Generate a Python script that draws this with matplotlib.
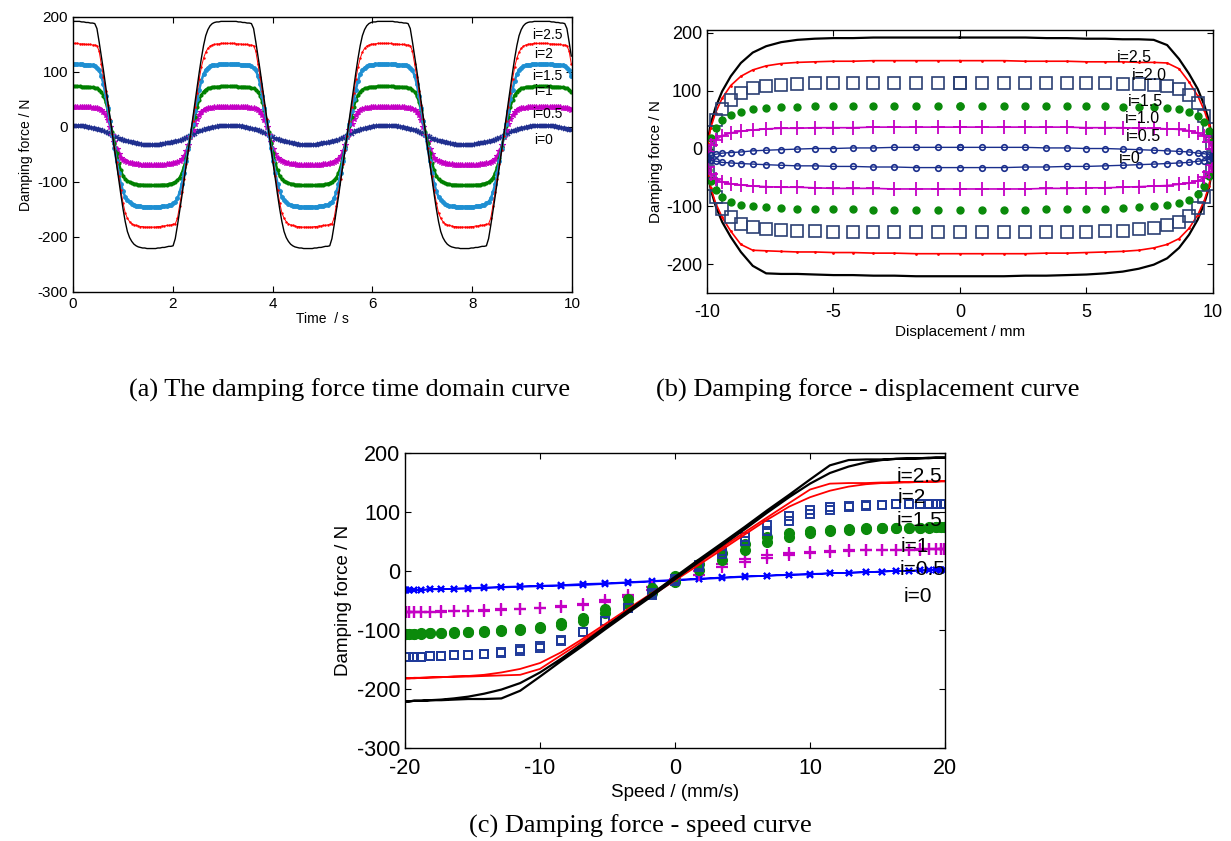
import numpy as np
import matplotlib
matplotlib.use('Agg')
import matplotlib.pyplot as plt

plt.rcParams['font.family'] = ['Liberation Sans', 'DejaVu Sans']
plt.rcParams['axes.unicode_minus'] = False

disp_cycle = [0, 0.87, 1.74, 2.59, 3.42, 4.23, 5.0, 5.74, 6.43, 7.07, 7.66, 8.19, 8.66, 9.06, 9.40, 9.66,
              9.85, 9.96, 10.0, 9.96, 9.85, 9.66, 9.40, 9.06, 8.66, 8.19, 7.66, 7.07, 6.43, 5.74, 5.0, 4.23,
              3.42, 2.59, 1.74, 0.87, 0,
              -0.87, -1.74, -2.59, -3.42, -4.23, -5.0, -5.74, -6.43, -7.07, -7.66, -8.19, -8.66, -9.06,
              -9.40, -9.66, -9.85, -9.96, -10.0, -9.96, -9.85, -9.66, -9.40, -9.06, -8.66, -8.19, -7.66,
              -7.07, -6.43, -5.74, -5.0, -4.23, -3.42, -2.59, -1.74, -0.87]
speed_cycle = [20, 19.92, 19.70, 19.32, 18.79, 18.13, 17.32, 16.38, 15.32, 14.14, 12.86, 11.47, 10.0, 8.45,
               6.84, 5.18, 3.47, 1.74, 0, -1.74, -3.47, -5.18, -6.84, -8.45, -10.0, -11.47, -12.86, -14.14,
               -15.32, -16.38, -17.32, -18.13, -18.79, -19.32, -19.70, -19.92, -20,
               -19.92, -19.70, -19.32, -18.79, -18.13, -17.32, -16.38, -15.32, -14.14, -12.86, -11.47,
               -10.0, -8.45, -6.84, -5.18, -3.47, -1.74, 0, 1.74, 3.47, 5.18, 6.84, 8.45, 10.0, 11.47,
               12.86, 14.14, 15.32, 16.38, 17.32, 18.13, 18.79, 19.32, 19.70, 19.92]

# damping force (N) over the same cycle, one list per current
force_i25 = [192, 192, 192, 192, 191, 191, 190, 190, 189, 189, 188, 179, 155, 129, 103, 75, 47, 19, -10,
             -39, -67, -95, -123, -149, -172, -190, -201, -208, -213, -216, -218, -219, -220, -220, -221,
             -221, -221,
             -221, -221, -220, -220, -219, -219, -218, -217, -217, -216, -203, -179, -153, -127, -99, -71,
             -43, -14, 15, 43, 71, 99, 125, 148, 166, 177, 184, 188, 190, 191, 191, 192, 192, 192, 192]
force_i2 = [152, 152, 152, 151, 151, 151, 150, 150, 150, 149, 149, 148, 138, 115, 91, 66, 40, 14, -12,
            -38, -64, -90, -115, -138, -156, -166, -172, -176, -178, -179, -180, -181, -181, -182, -182,
            -182, -182,
            -182, -182, -181, -181, -180, -180, -179, -179, -178, -177, -176, -166, -143, -119, -94, -68,
            -42, -16, 10, 36, 62, 87, 109, 125, 136, 143, 147, 149, 150, 151, 151, 152, 152, 152, 152]
force_i15 = [114, 114, 114, 114, 114, 113, 113, 113, 112, 112, 110, 108, 103, 93, 78, 57, 34, 10, -14,
             -38, -62, -84, -103, -117, -127, -133, -137, -140, -142, -143, -144, -144, -145, -145, -145,
             -145, -145,
             -145, -145, -145, -145, -144, -144, -143, -142, -141, -139, -136, -130, -119, -104, -84, -62,
             -40, -17, 6, 29, 50, 68, 84, 96, 104, 108, 110, 112, 113, 113, 114, 114, 114, 114, 114]
force_i1 = [74, 74, 74, 74, 73, 73, 73, 73, 72, 72, 71, 70, 68, 64, 57, 46, 30, 11, -9,
            -29, -48, -65, -79, -89, -95, -98, -100, -102, -103, -104, -105, -105, -105, -106, -106,
            -106, -106,
            -106, -106, -106, -106, -105, -105, -105, -104, -103, -102, -100, -97, -92, -84, -72, -56,
            -37, -18, 1, 19, 36, 49, 58, 64, 68, 70, 71, 72, 73, 73, 73, 74, 74, 74, 74]
force_i05 = [37, 37, 37, 37, 37, 37, 36, 36, 36, 35, 35, 34, 33, 31, 27, 21, 12, 0, -14,
             -28, -40, -50, -56, -60, -62, -64, -65, -66, -67, -68, -68, -69, -69, -70, -70, -70, -70,
             -70, -70, -70, -69, -69, -69, -68, -67, -67, -66, -65, -63, -61, -58, -53, -44,
             -32, -19, -6, 6, 15, 22, 27, 30, 32, 34, 35, 35, 36, 36, 36, 37, 37, 37, 37]
force_i0 = [2, 2, 2, 2, 1, 1, 0, 0, -1, -2, -3, -4, -5, -6, -8, -9, -11, -13, -15,
            -17, -19, -21, -22, -24, -25, -26, -27, -28, -29, -30, -31, -31, -32, -32, -33, -33, -33,
            -33, -33, -32, -32, -31, -31, -30, -30, -29, -28, -27, -26, -25, -24, -22, -20,
            -18, -16, -14, -12, -10, -8, -7, -6, -4, -3, -2, -1, 0, 0, 1, 1, 2, 2, 2]

sample_step = 0.0436  # s
n_samples = 230
time_s = np.arange(n_samples) * sample_step

labels_a = ['i=2.5', 'i=2', 'i=1.5', 'i=1', 'i=0.5', 'i=0']
labels_b = ['i=2.5', 'i=2.0', 'i=1.5', 'i=1.0', 'i=0.5', 'i=0']
labels_c = ['i=2.5', 'i=2', 'i=1.5', 'i=1', 'i=0.5', 'i=0']


def closed(vals):
    return list(vals) + [vals[0]]


def style_axes(ax, fs, pad=3.5):
    ax.tick_params(direction='in', top=True, right=True, labelsize=fs, length=4, width=0.8, pad=pad)
    for s in ax.spines.values():
        s.set_linewidth(1.0)


fig = plt.figure(figsize=(12.31, 8.41), dpi=100)

# (a) time domain
ax = fig.add_axes([0.0593, 0.6528, 0.4054, 0.327])
ax.plot(time_s, np.resize(force_i0, n_samples), color='#1f2f8f', marker='x', ms=3, mew=1.2, lw=1.8)
ax.plot(time_s, np.resize(force_i05, n_samples), color='#c400c4', marker='*', ms=4, mew=0.8, lw=1.2)
ax.plot(time_s, np.resize(force_i1, n_samples), color='#008000', marker='.', ms=4, lw=1.8)
ax.plot(time_s, np.resize(force_i15, n_samples), color='#1e8fd2', marker='o', ms=2.5, lw=1.8)
ax.plot(time_s, np.resize(force_i2, n_samples), color='#ff0000', marker='.', ms=1.5, lw=0.7)
ax.plot(time_s, np.resize(force_i25, n_samples), color='black', lw=1.0)
ax.set_xlim(0, 10)
ax.set_ylim(-300, 200)
ax.set_xticks([0, 2, 4, 6, 8, 10])
ax.set_yticks([-300, -200, -100, 0, 100, 200])
style_axes(ax, 11)
ax.set_xlabel('Time  / s', fontsize=10, labelpad=1)
ax.set_ylabel('Damping force / N', fontsize=10, labelpad=3)
for lab, (tx, ty) in zip(labels_a, [(9.5, 168), (9.43, 133), (9.5, 92), (9.43, 66), (9.5, 23), (9.43, -24)]):
    ax.text(tx, ty, lab, fontsize=10, ha='center', va='center')

# (b) force - displacement
ax = fig.add_axes([0.5743, 0.6516, 0.411, 0.3127])
xb = closed(disp_cycle)
ax.plot(xb, closed(force_i25), color='black', lw=1.6)
ax.plot(xb, closed(force_i2), color='#ff0000', lw=1.2, marker='.', ms=2)
ax.plot(xb, closed(force_i15), ls='none', marker='s', ms=9, mfc='none', mec='#2b3f73', mew=1.2)
ax.plot(xb, closed(force_i1), ls='none', marker='o', ms=5, color='#0a8a0a')
ax.plot(xb, closed(force_i05), color='#c400c4', lw=1.2, marker='+', ms=10, mew=1.3)
ax.plot(xb, closed(force_i0), color='#1a2e8c', lw=1.0, marker='o', ms=4, mfc='none', mew=1.2)
ax.set_xlim(-10, 10)
ax.set_ylim(-250, 205)
ax.set_xticks([-10, -5, 0, 5, 10])
ax.set_yticks([-200, -100, 0, 100, 200])
style_axes(ax, 13)
ax.tick_params(axis='x', pad=8)
ax.set_xlabel('Displacement / mm', fontsize=11, labelpad=3)
ax.set_ylabel('Damping force / N', fontsize=11, labelpad=2)
for lab, (tx, ty) in zip(labels_b, [(6.9, 158), (7.5, 127), (7.35, 82), (7.2, 52), (7.25, 20), (6.7, -17)]):
    ax.text(tx, ty, lab, fontsize=11.5, ha='center', va='center')

# (c) force - speed
ax = fig.add_axes([0.329, 0.1106, 0.4387, 0.3508])
xc = closed(speed_cycle)
ax.plot(xc, closed(force_i0), color='#0000ff', lw=1.2, marker='x', ms=5, mew=1.5)
ax.plot(xc, closed(force_i05), ls='none', marker='+', ms=8, mew=1.6, color='#c400c4')
ax.plot(xc, closed(force_i1), ls='none', marker='o', ms=7, color='#0b8a0b')
ax.plot(xc, closed(force_i15), ls='none', marker='s', ms=6, mfc='none', mec='#1f3a9a', mew=1.4)
ax.plot(xc, closed(force_i2), color='#ff0000', lw=1.3)
ax.plot(xc, closed(force_i25), color='black', lw=1.6)
ax.set_xlim(-20, 20)
ax.set_ylim(-300, 200)
ax.set_xticks([-20, -10, 0, 10, 20])
ax.set_yticks([-300, -200, -100, 0, 100, 200])
style_axes(ax, 15.5)
ax.tick_params(axis='x', pad=7)
ax.set_xlabel('Speed / (mm/s)', fontsize=13.5, labelpad=4)
ax.set_ylabel('Damping force / N', fontsize=13.5, labelpad=3)
for lab, (tx, ty) in zip(labels_c, [(16.4, 160), (16.5, 124), (16.4, 85), (16.7, 41), (16.6, 3), (16.9, -44)]):
    ax.text(tx, ty, lab, fontsize=15, ha='left', va='center')

cap = dict(fontsize=19, family=['Liberation Serif', 'DejaVu Serif'], ha='center', va='center')
fig.text(350 / 1231, 1 - 390 / 841, '(a) The damping force time domain curve', **cap)
fig.text(868 / 1231, 1 - 390 / 841, '(b) Damping force - displacement curve', **cap)
fig.text(640 / 1231, 1 - 826 / 841, '(c) Damping force - speed curve', **cap)

fig.savefig('out.png', dpi=100)
